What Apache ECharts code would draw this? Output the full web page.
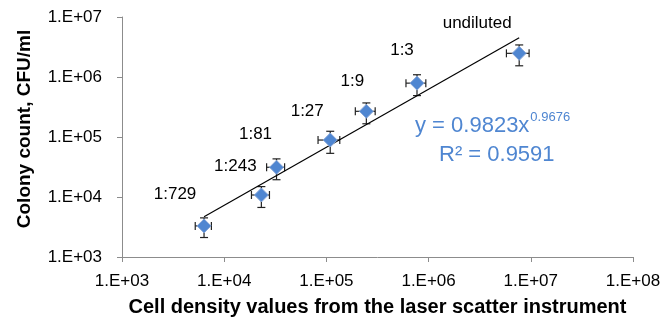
<!DOCTYPE html>
<html>
<head>
<meta charset="utf-8">
<script src="https://cdn.jsdelivr.net/npm/echarts@6/dist/echarts.min.js"></script>
<style>
  html, body { margin: 0; padding: 0; background: #fff; }
  #chart { width: 672px; height: 323px; }
</style>
</head>
<body>
<div id="chart"></div>
<script>
// dilution labels
var dilutions = ['1:729', '1:243', '1:81', '1:27', '1:9', '1:3', 'undiluted'];
// laser scatter cell density (x) and colony counts (y)
var cellDensity = [6.35e3, 2.31e4, 3.25e4, 1.09e5, 2.46e5, 7.7e5, 7.7e6];
var colonyCount = [3.3e3, 1.08e4, 3.13e4, 8.9e4, 2.68e5, 7.9e5, 2.48e6];
// relative error (fraction) of each point
var xErr = [0.18, 0.2, 0.2, 0.24, 0.22, 0.22, 0.25];
var yErr = [0.36, 0.38, 0.38, 0.4, 0.38, 0.38, 0.38];
// power trendline y = a * x^b
var fitA = 0.9823;
var fitB = 0.9676;
var rSquared = 0.9591;
var xTicks = [1e3, 1e4, 1e5, 1e6, 1e7, 1e8];
var yTicks = [1e3, 1e4, 1e5, 1e6, 1e7];

// where each dilution label sits relative to its point
var labelOffsets = [[-29, -32], [-26, -29], [-21, -33], [-23, -29], [-14, -30], [-15, -33], [-42, -30]];

var font = '"Liberation Sans", Arial, sans-serif';
var blue = '#4f86d1';

function sci(v) {
    var e = Math.round(Math.log10(v));
    return '1.E+' + (e < 10 ? '0' + e : e);
}

// width of the equation so the exponent sits right after it
var eqText = 'y = ' + fitA + 'x';
var eqFont = '22px ' + font;
var ctx = document.createElement('canvas').getContext('2d');
ctx.font = eqFont;
var eqWidth = ctx.measureText(eqText).width;

var myChart = echarts.init(document.getElementById('chart'));

var errData = [];
var pointData = [];
cellDensity.forEach(function (x, i) {
    var y = colonyCount[i];
    errData.push([x, y, x * (1 - xErr[i]), x * (1 + xErr[i]), y * (1 - yErr[i]), y * (1 + yErr[i])]);
    pointData.push({
        value: [x, y],
        label: { formatter: dilutions[i], offset: labelOffsets[i] }
    });
});

var xMin = Math.min.apply(null, cellDensity);
var xMax = Math.max.apply(null, cellDensity);
var trend = [[xMin, fitA * Math.pow(xMin, fitB)], [xMax, fitA * Math.pow(xMax, fitB)]];

var axisLine = { show: true, lineStyle: { color: '#8c8c8c', width: 1 } };

var option = {
    animation: false,
    grid: { left: 122, right: 39, top: 17, bottom: 66 },
    xAxis: {
        type: 'log',
        logBase: 10,
        min: xTicks[0],
        max: xTicks[xTicks.length - 1],
        name: 'Cell density values from the laser scatter instrument',
        nameLocation: 'middle',
        nameGap: 40,
        nameTextStyle: { fontFamily: font, fontWeight: 'bold', fontSize: 20, color: '#000' },
        axisLine: axisLine,
        axisTick: { show: true, length: 5, inside: false, lineStyle: { color: '#8c8c8c' } },
        axisLabel: { formatter: sci, fontFamily: font, fontSize: 17, color: '#000', margin: 16 },
        splitLine: { show: false },
        minorTick: { show: false }
    },
    yAxis: {
        type: 'log',
        logBase: 10,
        min: yTicks[0],
        max: yTicks[yTicks.length - 1],
        axisLine: axisLine,
        axisTick: { show: true, length: 5, lineStyle: { color: '#8c8c8c' } },
        axisLabel: { formatter: sci, fontFamily: font, fontSize: 17, color: '#000', margin: 20 },
        splitLine: { show: false }
    },
    graphic: [
        {
            type: 'text', x: 25, y: 129, rotation: Math.PI / 2,
            style: {
                text: 'Colony count, CFU/ml', font: 'bold 19px ' + font, fill: '#000',
                align: 'center', verticalAlign: 'middle'
            }
        },
        {
            type: 'text', left: 415, top: 115,
            style: { text: eqText, font: eqFont, fill: blue }
        },
        {
            type: 'text', left: 415 + eqWidth + 1, top: 111,
            style: { text: String(fitB), font: '13px ' + font, fill: blue }
        },
        {
            type: 'text', left: 439, top: 144,
            style: { text: 'R\u00b2 = ' + rSquared, font: eqFont, fill: blue }
        }
    ],
    series: [
        {
            type: 'custom',
            z: 2,
            data: errData,
            renderItem: function (params, api) {
                var c = api.coord([api.value(0), api.value(1)]);
                var xl = api.coord([api.value(2), api.value(1)]);
                var xh = api.coord([api.value(3), api.value(1)]);
                var yl = api.coord([api.value(0), api.value(4)]);
                var yh = api.coord([api.value(0), api.value(5)]);
                var cap = 4;
                var st = { stroke: '#222', lineWidth: 1.2 };
                var seg = function (x1, y1, x2, y2) {
                    return { type: 'line', shape: { x1: x1, y1: y1, x2: x2, y2: y2 }, style: st };
                };
                return {
                    type: 'group',
                    children: [
                        seg(xl[0], c[1], xh[0], c[1]),
                        seg(xl[0], c[1] - cap, xl[0], c[1] + cap),
                        seg(xh[0], c[1] - cap, xh[0], c[1] + cap),
                        seg(c[0], yl[1], c[0], yh[1]),
                        seg(c[0] - cap, yl[1], c[0] + cap, yl[1]),
                        seg(c[0] - cap, yh[1], c[0] + cap, yh[1])
                    ]
                };
            }
        },
        {
            type: 'line',
            z: 3,
            data: trend,
            symbol: 'none',
            lineStyle: { color: '#000', width: 1.2 },
            silent: true
        },
        {
            type: 'scatter',
            z: 4,
            data: pointData,
            symbol: 'diamond',
            symbolSize: 14,
            itemStyle: { color: blue, borderColor: '#8aa8d8', borderWidth: 1, opacity: 1 },
            label: {
                show: true,
                position: 'inside',
                fontFamily: font,
                fontSize: 17,
                color: '#000'
            }
        }
    ]
};

myChart.setOption(option);
</script>
</body>
</html>
